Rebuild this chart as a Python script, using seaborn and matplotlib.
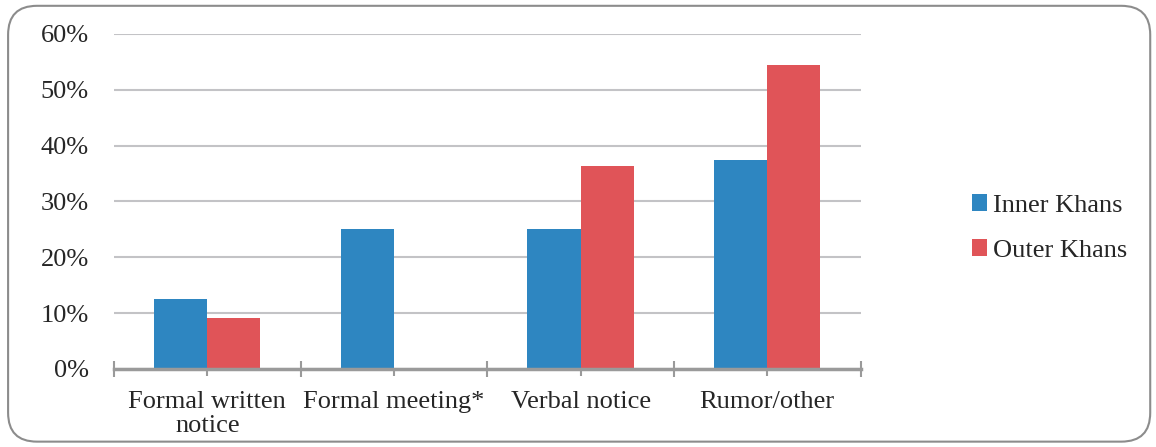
import matplotlib
matplotlib.use('Agg')
import matplotlib.pyplot as plt
import pandas as pd
import seaborn as sns
from matplotlib.patches import FancyBboxPatch
from matplotlib.ticker import FixedLocator, PercentFormatter

sns.set_theme(style='white')
plt.rcParams['font.family'] = ['Liberation Serif', 'DejaVu Serif']

# Data
categories = ['Formal written\nnotice', 'Formal meeting*', 'Verbal notice', 'Rumor/other']
groups = ['Inner Khans', 'Outer Khans']
inner_khans = [12.5, 25.0, 25.0, 37.5]
outer_khans = [9.1, 0.0, 36.4, 54.5]
y_ticks = [0, 10, 20, 30, 40, 50, 60]

COLORS = {'Inner Khans': '#2E86C1', 'Outer Khans': '#E05458'}
GRID = '#c3c3c6'
AXIS = '#9a9a9a'
TEXT = '#262626'
FONT_SIZE = 19


def build_frame() -> pd.DataFrame:
    """Long-form table for seaborn."""
    rows = []
    for cat, a, b in zip(categories, inner_khans, outer_khans):
        rows.append({'category': cat, 'group': groups[0], 'value': a})
        rows.append({'category': cat, 'group': groups[1], 'value': b})
    return pd.DataFrame(rows)


def main() -> None:
    data = build_frame()
    fig = plt.figure(figsize=(11.56, 4.47), dpi=100)
    ax = fig.add_axes([0.0986, 0.1745, 0.6458, 0.7495])

    sns.barplot(data=data, x='category', y='value', hue='group', order=categories,
                hue_order=groups, palette=COLORS, width=0.57, gap=0, linewidth=0,
                saturation=1, errorbar=None, ax=ax, zorder=3)

    # Axes limits and grid
    ax.set_ylim(0, 60)
    ax.set_xlim(-0.5, len(categories) - 0.5)
    ax.set_yticks(y_ticks)
    ax.yaxis.set_major_formatter(PercentFormatter(decimals=0))
    ax.grid(axis='y', color=GRID, linewidth=1.5, zorder=0)
    ax.set_axisbelow(True)
    for side in ['left', 'right', 'top']:
        ax.spines[side].set_visible(False)
    ax.spines['bottom'].set_color(AXIS)
    ax.spines['bottom'].set_linewidth(2.5)
    ax.spines['bottom'].set_zorder(4)

    # Ticks: short marks at centres, longer crossing marks at boundaries
    ax.xaxis.set_minor_locator(FixedLocator([i - 0.5 for i in range(len(categories) + 1)]))
    ax.tick_params(axis='x', which='major', direction='out', length=5, width=1.5,
                   color=AXIS, bottom=True, pad=11, labelsize=FONT_SIZE, labelcolor=TEXT)
    ax.tick_params(axis='x', which='minor', direction='inout', length=11, width=1.5,
                   color=AXIS, bottom=True)
    ax.tick_params(axis='y', length=0, pad=18, labelsize=FONT_SIZE, labelcolor=TEXT)
    for lbl in ax.get_xticklabels():
        lbl.set_linespacing(1.12)
    ax.set_xlabel('')
    ax.set_ylabel('')

    # Legend on the right
    handles, labels = ax.get_legend_handles_labels()
    ax.get_legend().remove()
    fig.legend(handles, labels, loc='center left', bbox_to_anchor=(0.829, 0.49),
               frameon=False, fontsize=FONT_SIZE, handlelength=0.6, handleheight=0.6,
               handletextpad=0.22, labelspacing=0.85, labelcolor=TEXT, borderpad=0)

    # Rounded chart border
    border = FancyBboxPatch((0.007, 0.012), 0.988, 0.975, transform=fig.transFigure,
                            boxstyle='round,pad=0,rounding_size=0.025', mutation_aspect=2.59,
                            facecolor='none', edgecolor='#8c8c8c', linewidth=1.5)
    fig.patches.append(border)

    fig.savefig('out.png', dpi=100)


if __name__ == '__main__':
    main()
